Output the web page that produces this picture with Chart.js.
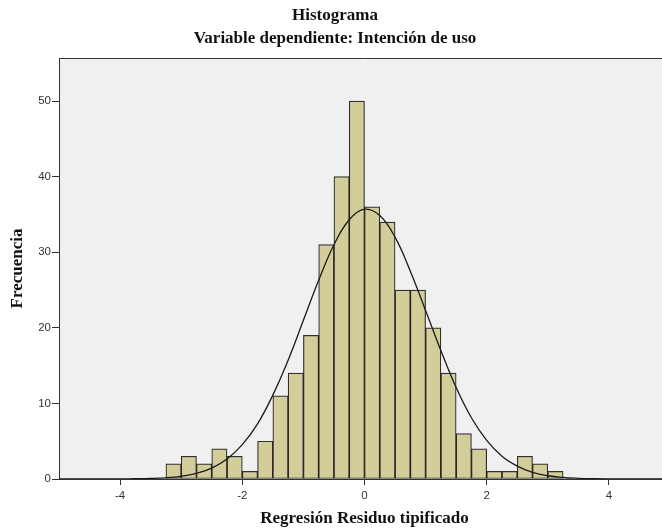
<!DOCTYPE html>
<html>
<head>
<meta charset="utf-8">
<script src="https://cdn.jsdelivr.net/npm/chart.js@4/dist/chart.umd.min.js"></script>
<style>
  html, body { margin: 0; padding: 0; background: #fff; overflow: hidden; }
  #wrap { width: 662px; height: 530px; overflow: hidden; }
</style>
</head>
<body>
<div id="wrap"><canvas id="histograma" width="680" height="530"></canvas></div>
<script>
// Centros de los intervalos (ancho 0.25) y frecuencias
const binCenters = [-3.125, -2.875, -2.625, -2.375, -2.125, -1.875, -1.625, -1.375, -1.125, -0.875, -0.625, -0.375, -0.125,
                    0.125, 0.375, 0.625, 0.875, 1.125, 1.375, 1.625, 1.875, 2.125, 2.375, 2.625, 2.875, 3.125];
const frequencies = [2, 3, 2, 4, 3, 1, 5, 11, 14, 19, 31, 40, 50,
                     36, 34, 25, 25, 20, 14, 6, 4, 1, 1, 3, 2, 1];

// Curva normal
const curveX = [-5, -4.5, -4, -3.75, -3.5, -3.25, -3, -2.75, -2.5, -2.25, -2, -1.75, -1.5, -1.25, -1, -0.75, -0.5, -0.25,
                0, 0.25, 0.5, 0.75, 1, 1.25, 1.5, 1.75, 2, 2.25, 2.5, 2.75, 3, 3.25, 3.5, 3.75, 4, 4.5, 5];
const curveY = [0, 0.001, 0.01, 0.03, 0.07, 0.16, 0.36, 0.75, 1.45, 2.65, 4.55, 7.3, 11.1, 15.7, 21.0, 26.3, 31.0, 34.3,
                35.7, 34.85, 32.0, 27.5, 22.3, 17.0, 12.1, 8.1, 5.1, 3.0, 1.7, 0.88, 0.43, 0.2, 0.09, 0.035, 0.013, 0.002, 0];

const xTicks = [-4, -2, 0, 2, 4];
const yTicks = [0, 10, 20, 30, 40, 50];

const serif = "'Liberation Serif', 'Times New Roman', serif";
const sans = "'Liberation Sans', Arial, sans-serif";

// Fondo gris del área del gráfico y borde superior
const plotBackground = {
  id: 'plotBackground',
  beforeDraw(chart) {
    const { ctx, chartArea: a } = chart;
    ctx.save();
    ctx.fillStyle = '#f0f0f0';
    ctx.fillRect(a.left, a.top, a.right - a.left, a.bottom - a.top);
    ctx.strokeStyle = '#333';
    ctx.lineWidth = 1;
    ctx.beginPath();
    ctx.moveTo(a.left, a.top + 0.5);
    ctx.lineTo(a.right, a.top + 0.5);
    ctx.stroke();
    ctx.restore();
  }
};

new Chart(document.getElementById('histograma'), {
  type: 'bar',
  data: {
    datasets: [
      {
        type: 'line',
        data: curveX.map((x, i) => ({ x: x, y: curveY[i] })),
        borderColor: '#1a1a1a',
        borderWidth: 1.3,
        pointRadius: 0,
        tension: 0.4,
        fill: false,
        order: 0
      },
      {
        type: 'bar',
        data: binCenters.map((x, i) => ({ x: x, y: frequencies[i] })),
        backgroundColor: '#d3ce99',
        borderColor: 'rgba(0,0,0,0.8)',
        borderWidth: 1.2,
        borderSkipped: false,
        barPercentage: 1,
        categoryPercentage: 1,
        order: 1
      }
    ]
  },
  options: {
    responsive: false,
    animation: false,
    devicePixelRatio: 1,
    layout: { padding: { left: 0, right: 10, top: 0, bottom: 0 } },
    plugins: {
      legend: { display: false },
      tooltip: { enabled: false },
      title: {
        display: true,
        text: 'Histograma',
        color: '#111',
        font: { family: serif, size: 17, weight: 'bold', lineHeight: 1.2 },
        padding: { top: 5.8, bottom: 1 }
      },
      subtitle: {
        display: true,
        text: 'Variable dependiente: Intención de uso',
        color: '#111',
        font: { family: serif, size: 17, weight: 'bold', lineHeight: 1.2 },
        padding: { top: 1.1, bottom: 9.3 }
      }
    },
    scales: {
      x: {
        type: 'linear',
        min: -5,
        max: 5,
        offset: false,
        afterFit: s => { s.height = 51; },
        afterBuildTicks: s => { s.ticks = xTicks.map(v => ({ value: v })); },
        grid: { display: true, drawOnChartArea: false, offset: false, tickLength: 6, color: '#333', tickColor: '#333' },
        border: { display: true, color: '#333', width: 1 },
        ticks: { color: '#333', font: { family: sans, size: 11.5 }, padding: 4, maxRotation: 0 },
        title: {
          display: true,
          text: 'Regresión Residuo tipificado',
          color: '#111',
          font: { family: serif, size: 17, weight: 'bold', lineHeight: 1.2 },
          padding: { top: 0, bottom: 0.8 }
        }
      },
      y: {
        min: 0,
        max: 55.7,
        afterFit: s => { s.width = 59; },
        afterBuildTicks: s => { s.ticks = yTicks.map(v => ({ value: v })); },
        grid: { display: true, drawOnChartArea: false, tickLength: 7, color: '#333', tickColor: '#333' },
        border: { display: true, color: '#333', width: 1 },
        ticks: { color: '#333', font: { family: sans, size: 11.5 }, padding: 1 },
        title: {
          display: true,
          text: 'Frecuencia',
          color: '#111',
          font: { family: serif, size: 17, weight: 'bold', lineHeight: 1.2 },
          padding: { top: 7.3, bottom: 0 }
        }
      }
    }
  },
  plugins: [plotBackground]
});
</script>
</body>
</html>
